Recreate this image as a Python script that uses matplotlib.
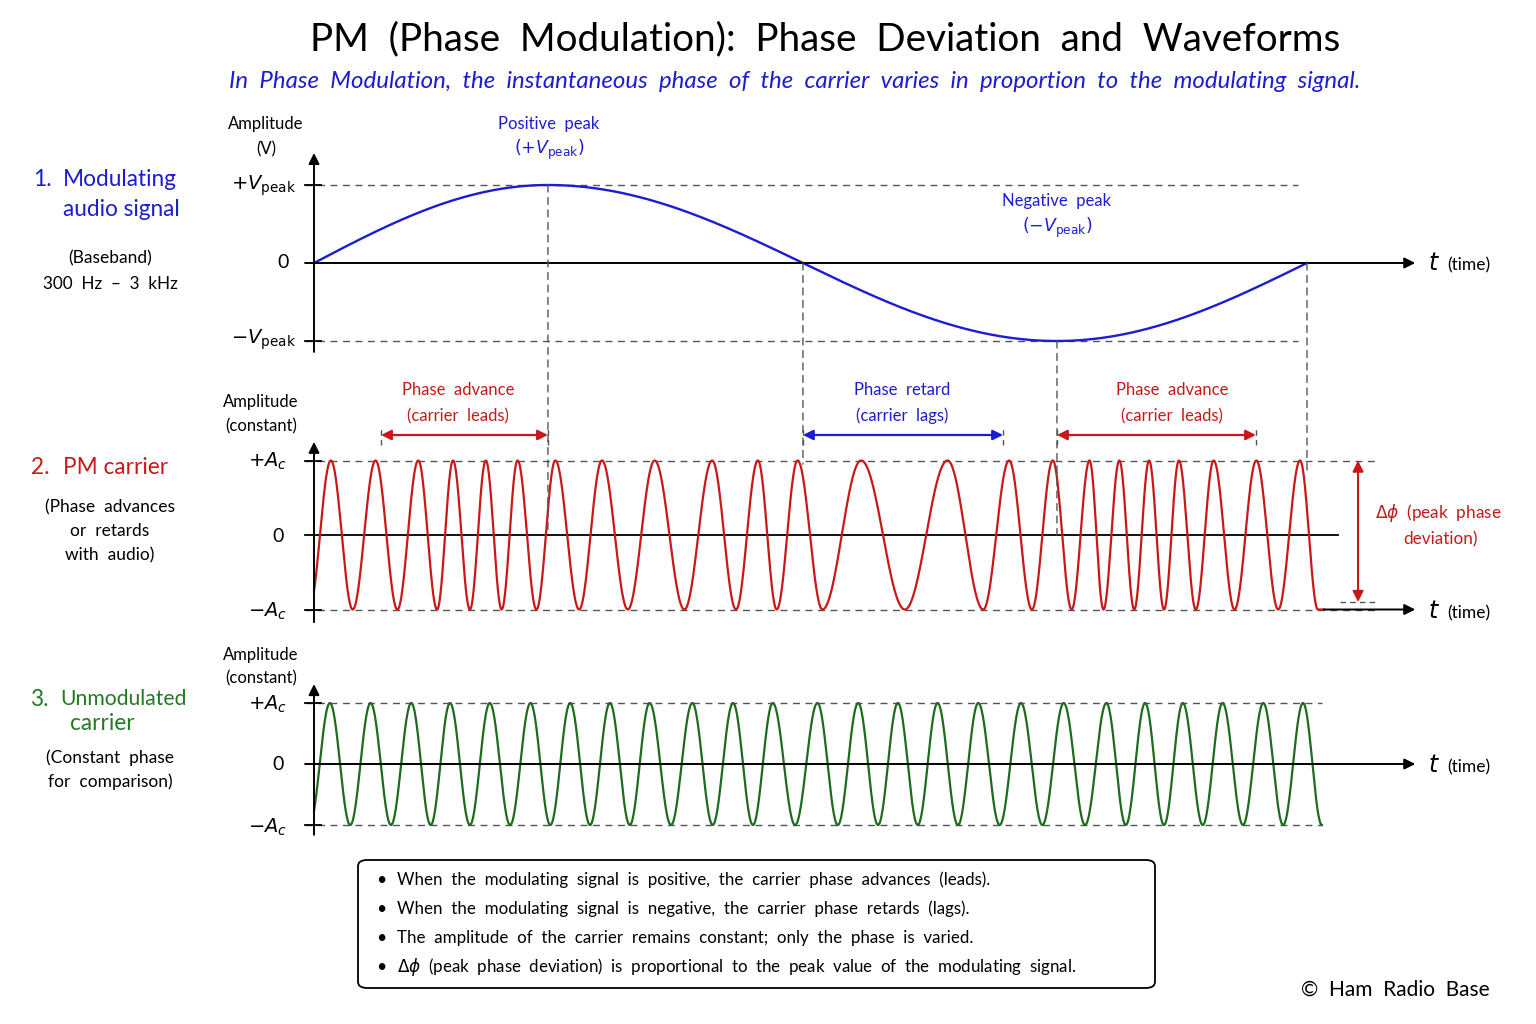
import numpy as np
import matplotlib
matplotlib.use("Agg")
import matplotlib.pyplot as plt
from matplotlib.patches import FancyBboxPatch, ConnectionPatch

# ---------------- data (time in units of one audio-tone period) ----------------
mod_key_times = [0.0, 0.2356, 0.4924, 0.7482, 1.0]      # 0, +peak, 0, -peak, 0
mod_key_phase = [0.0, 0.25, 0.50, 0.75, 1.0]            # cycles of the audio tone
v_peak = 1.0
a_c = 1.0

pm_peak_times = [0.017, 0.062, 0.105, 0.140, 0.173, 0.205, 0.243, 0.290, 0.343,
                 0.401, 0.447, 0.487, 0.551, 0.638, 0.700, 0.744, 0.781, 0.811,
                 0.841, 0.871, 0.906, 0.949, 0.993]
pm_trough_times = [-0.005, 0.039, 0.084, 0.124, 0.157, 0.189, 0.224, 0.267, 0.316,
                   0.373, 0.425, 0.466, 0.512, 0.595, 0.674, 0.723, 0.763, 0.795,
                   0.826, 0.856, 0.888, 0.927, 0.971, 1.011]
pm_end_time = 1.017

cw_peak_times = [0.016, 0.057, 0.098, 0.137, 0.177, 0.218, 0.258, 0.298, 0.338,
                 0.381, 0.422, 0.462, 0.507, 0.548, 0.588, 0.628, 0.669, 0.712,
                 0.755, 0.798, 0.837, 0.875, 0.915, 0.956, 0.996]
cw_start_trough = -0.0045
cw_end_trough = 1.015

region_top = ["Phase advance", "Phase retard", "Phase advance"]
region_bottom = ["(carrier leads)", "(carrier lags)", "(carrier leads)"]
region_start = [0.0675, 0.4924, 0.7482]
region_end = [0.2356, 0.6939, 0.9486]
region_label_t = [0.145, 0.592, 0.864]

bullets = [
    "When the modulating signal is positive, the carrier phase advances (leads).",
    "When the modulating signal is negative, the carrier phase retards (lags).",
    "The amplitude of the carrier remains constant; only the phase is varied.",
    r"$\Delta\phi$ (peak phase deviation) is proportional to the peak value of the modulating signal.",
]

# ---------------- style ----------------
FONT = "Lato"
plt.rcParams["font.family"] = [FONT, "DejaVu Sans"]
plt.rcParams["mathtext.fontset"] = "dejavusans"
BLUE = "#1c1cd2"
RED = "#c81818"
GREEN = "#1d6b1d"
GREEN_T = "#237a23"
DASH = "#555555"

W, H = 1536, 1024
fig = plt.figure(figsize=(W / 100, H / 100), dpi=100)
fig.patch.set_facecolor("white")

def ftext(x, y, s, size=12, color="black", ha="center", va="center", wide=True, **kw):
    if wide:
        s = s.replace(" ", "  ")   # wide word spacing like the reference
    fig.text(x / W, 1 - y / H, s, fontsize=size, color=color, ha=ha, va=va, **kw)

T0, T1 = 314, 1307
SC = T1 - T0
XL = (-T0 / SC, (W - T0) / SC)

def panel(y0, amp, top, bot):
    ax = fig.add_axes([0, 1 - bot / H, 1, (bot - top) / H])
    ax.set_xlim(*XL)
    ax.set_ylim(-(bot - y0) / amp, (y0 - top) / amp)
    ax.axis("off")
    return ax

ax1 = panel(263, 78, 100, 380)
ax2 = panel(535, 74.5, 380, 640)
ax3 = panel(764, 61, 640, 850)

def yaxis(ax, lo, hi):
    ax.annotate("", xy=(0, hi), xytext=(0, lo),
                arrowprops=dict(arrowstyle="-|>", lw=1.4, color="black",
                                mutation_scale=16, shrinkA=0, shrinkB=0))

def xarrow(ax, x0, x1, y):
    ax.annotate("", xy=(x1, y), xytext=(x0, y),
                arrowprops=dict(arrowstyle="-|>", lw=1.4, color="black",
                                mutation_scale=16, shrinkA=0, shrinkB=0))

def ticks(ax, levels):
    for lv in levels:
        ax.plot([-0.009, 0.007], [lv, lv], color="black", lw=1.3)

# ---------- panel 1: modulating signal ----------
t = np.linspace(0, 1, 2000)
mod = v_peak * np.sin(2 * np.pi * np.interp(t, mod_key_times, mod_key_phase))
for lv in (v_peak, -v_peak):
    ax1.plot([-0.009, 0.991], [lv, lv], ls=(0, (5, 4)), color=DASH, lw=1.0)
ax1.plot(t, mod, color=BLUE, lw=1.7, zorder=3)
xarrow(ax1, -0.009, 1.109, 0)
yaxis(ax1, -1.14, 1.41)
ticks(ax1, [v_peak, -v_peak])

# ---------- panel 2: PM carrier ----------
pm_times = sorted(pm_peak_times + pm_trough_times)
pm_phase = np.arange(len(pm_times)) * 0.5 - 0.5
t2 = np.linspace(0, pm_end_time, 6000)
pm = a_c * np.cos(2 * np.pi * np.interp(t2, pm_times, pm_phase))
for lv in (a_c, -a_c):
    ax2.plot([-0.009, 1.0715], [lv, lv], ls=(0, (5, 4)), color=DASH, lw=1.0)
ax2.plot([-0.009, 1.031], [0, 0], color="black", lw=1.3)
ax2.plot(t2, pm, color=RED, lw=1.6, zorder=3)
xarrow(ax2, pm_end_time, 1.109, -a_c)
yaxis(ax2, -1.17, 1.25)
ticks(ax2, [a_c, -a_c])

# delta-phi arrow
ax2.plot([1.033, 1.0715], [-0.9, -0.9], ls=(0, (4, 3)), color=DASH, lw=1.0)
ax2.annotate("", xy=(1.0514, -0.9), xytext=(1.0514, a_c),
             arrowprops=dict(arrowstyle="<|-|>", lw=1.5, color=RED,
                             mutation_scale=16, shrinkA=0, shrinkB=0))

# region arrows
arrow_y = (535 - 435) / 74.5
for i, (s, e) in enumerate(zip(region_start, region_end)):
    c = BLUE if "retard" in region_top[i] else RED
    ax2.annotate("", xy=(e, arrow_y), xytext=(s, arrow_y),
                 arrowprops=dict(arrowstyle="<|-|>", lw=1.6, color=c,
                                 mutation_scale=15, shrinkA=0, shrinkB=0))
    for xe in (s, e):
        ax2.plot([xe, xe], [arrow_y - 0.14, arrow_y + 0.1], ls=(0, (4, 3)),
                 color=DASH, lw=1.0)

# ---------- panel 3: unmodulated carrier ----------
cw_times = [cw_start_trough] + cw_peak_times + [cw_end_trough]
cw_phase = [-0.5] + list(range(len(cw_peak_times))) + [len(cw_peak_times) - 0.5]
t3 = np.linspace(0, cw_end_trough, 6000)
cw = a_c * np.cos(2 * np.pi * np.interp(t3, cw_times, cw_phase))
for lv in (a_c, -a_c):
    ax3.plot([-0.009, 1.015], [lv, lv], ls=(0, (5, 4)), color=DASH, lw=1.0)
ax3.plot(t3, cw, color=GREEN, lw=1.6, zorder=3)
xarrow(ax3, -0.009, 1.109, 0)
yaxis(ax3, -1.16, 1.31)
ticks(ax3, [a_c, -a_c])

# ---------- vertical dashed guides between panels ----------
guides = [(mod_key_times[1], v_peak, 0.0),
          (mod_key_times[2], 0.0, 0.95),
          (mod_key_times[3], -v_peak, 0.0),
          (mod_key_times[4], 0.0, 0.85)]
for tx, ya, yb in guides:
    cp = ConnectionPatch(xyA=(tx, ya), coordsA=ax1.transData,
                         xyB=(tx, yb), coordsB=ax2.transData,
                         ls=(0, (5, 4)), color=DASH, lw=1.0)
    fig.add_artist(cp)

# ---------------- texts ----------------
ftext(825, 39, "PM (Phase Modulation): Phase Deviation and Waveforms", size=27.8)
ftext(795, 82, "In Phase Modulation, the instantaneous phase of the carrier varies "
      "in proportion to the modulating signal.", size=17.3, color=BLUE, style="italic")

# panel 1 labels
ftext(266, 124, "Amplitude", size=12)
ftext(266, 149, "(V)", size=12)
ftext(296, 186, r"$+V_{\rm peak}$", size=14, ha="right")
ftext(283, 263, "0", size=14)
ftext(296, 340, r"$-V_{\rm peak}$", size=14, ha="right")
ftext(549, 124, "Positive peak", size=12, color=BLUE)
ftext(549, 150, r"$(+V_{\rm peak})$", size=12.5, color=BLUE)
ftext(1057, 201, "Negative peak", size=12, color=BLUE)
ftext(1057, 228, r"$(-V_{\rm peak})$", size=12.5, color=BLUE)

def tlabel(y):
    ftext(1428, y - 2, r"$t$", size=17, ha="left")
    ftext(1447, y, "(time)", size=12.5, ha="left")

tlabel(265)
tlabel(613)
tlabel(767)

# panel 2 labels
ftext(261, 402, "Amplitude", size=12)
ftext(261, 426, "(constant)", size=12)
ftext(287, 461, r"$+A_c$", size=14, ha="right")
ftext(278, 536, "0", size=14)
ftext(287, 611, r"$-A_c$", size=14, ha="right")
for i, tl in enumerate(region_label_t):
    c = BLUE if "retard" in region_top[i] else RED
    xm = T0 + SC * tl
    ftext(xm, 390, region_top[i], size=12, color=c)
    ftext(xm, 416, region_bottom[i], size=12, color=c)
ftext(1438, 513, r"$\Delta\phi$ (peak phase", size=12.3, color=RED)
ftext(1440, 539, "deviation)", size=12.3, color=RED)

# panel 3 labels
ftext(261, 655, "Amplitude", size=12)
ftext(261, 678, "(constant)", size=12)
ftext(287, 704, r"$+A_c$", size=14, ha="right")
ftext(278, 764, "0", size=14)
ftext(287, 827, r"$-A_c$", size=14, ha="right")

# left side labels
ftext(33, 180, "1.", size=16.3, color=BLUE, ha="left")
ftext(63, 180, "Modulating", size=16.3, color=BLUE, ha="left")
ftext(63, 210, "audio signal", size=16.3, color=BLUE, ha="left", wide=False)
ftext(110, 258, "(Baseband)", size=12.5)
ftext(110, 284, "300 Hz \u2013 3 kHz", size=12.3)

ftext(31, 467, "2.", size=16.3, color=RED, ha="left")
ftext(63, 467, "PM carrier", size=16.3, color=RED, ha="left", wide=False)
ftext(110, 507, "(Phase advances", size=12.5)
ftext(110, 531, "or retards", size=12.5)
ftext(110, 555, "with audio)", size=12.5)

ftext(30, 699, "3.", size=16.3, color=GREEN_T, ha="left")
ftext(60, 699, "Unmodulated", size=15.2, color=GREEN_T, ha="left")
ftext(102, 724, "carrier", size=16.3, color=GREEN_T)
ftext(110, 758, "(Constant phase", size=12.5)
ftext(110, 782, "for comparison)", size=12.5)

# bottom note box
box = FancyBboxPatch((358 / W, 1 - 988 / H), (1155 - 358) / W, (988 - 860) / H,
                     boxstyle="round,pad=0,rounding_size=0.006",
                     transform=fig.transFigure, fc="white", ec="black", lw=1.3)
fig.patches.append(box)
for i, b in enumerate(bullets):
    y = 880 + 29 * i
    ftext(381, y, "\u2022", size=12.5, ha="center")
    ftext(397, y, b, size=12.2, ha="left")

ftext(1490, 990, "\u00a9 Ham Radio Base", size=15, ha="right")

fig.savefig("out.png", dpi=100, facecolor="white")
